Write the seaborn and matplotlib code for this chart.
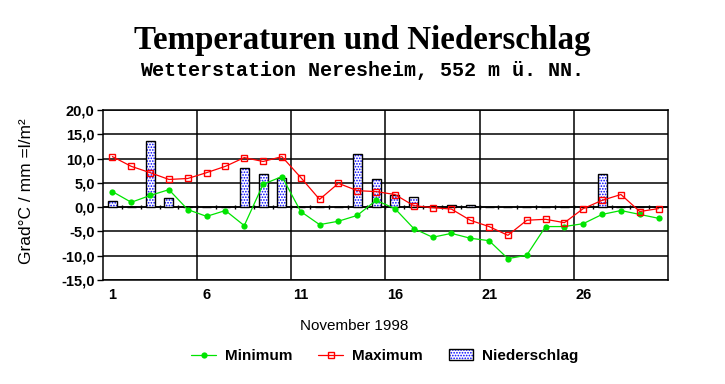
import matplotlib
matplotlib.use("Agg")
import matplotlib.pyplot as plt
import seaborn as sns
import numpy as np
import pandas as pd
from matplotlib.patches import Rectangle, Patch
from matplotlib.legend_handler import HandlerTuple

# ---------------- data ----------------
days = list(range(1, 31))
tmax = [10.4, 8.4, 7.1, 5.7, 5.9, 7.1, 8.4, 10.2, 9.4, 10.4,
        6.1, 1.6, 4.9, 3.4, 3.2, 2.6, 0.3, -0.1, -0.4, -2.7,
        -4.0, -5.8, -2.7, -2.5, -3.2, -0.3, 1.4, 2.6, -0.9, -0.3]
tmin = [3.2, 1.0, 2.4, 3.6, -0.5, -1.9, -0.7, -3.8, 4.7, 6.3,
        -0.9, -3.6, -2.9, -1.7, 1.4, -0.3, -4.4, -6.2, -5.4, -6.4,
        -6.9, -10.6, -9.9, -4.0, -4.0, -3.4, -1.5, -0.7, -1.5, -2.3]
rain = [1.2, 0, 13.7, 1.8, 0, 0.1, 0, 8.0, 6.9, 5.9,
        0, 0.1, 0.1, 11.0, 5.7, 2.6, 2.0, 0, 0.4, 0.4,
        0, 0, 0.1, 0, 0, 0, 6.9, 0, 0, 0]
x_tick_days = [1, 6, 11, 16, 21, 26]
y_ticks = [-15, -10, -5, 0, 5, 10, 15, 20]
y_tick_labels = [f"{v:.1f}".replace(".", ",") for v in y_ticks]

title = "Temperaturen und Niederschlag"
subtitle = "Wetterstation Neresheim, 552 m ü. NN."
xlabel = "November 1998"
ylabel = "Grad°C / mm =l/m²"
series_names = ["Minimum", "Maximum", "Niederschlag"]

df = pd.DataFrame({"day": days, "tmax": tmax, "tmin": tmin, "rain": rain})

# ---------------- style ----------------
sns.set_style("white")
plt.rcParams["font.family"] = ["Liberation Sans", "DejaVu Sans"]
plt.rcParams["hatch.linewidth"] = 0.8
for k in ["text.color", "axes.labelcolor", "xtick.color", "ytick.color", "axes.edgecolor"]:
    plt.rcParams[k] = "black"

GREEN = "#00e400"
RED = "#ff0000"
BLUE = "#0000ff"

fig = plt.figure(figsize=(7.25, 3.84), dpi=100)
ax = fig.add_axes([103 / 725, 1 - 280 / 384, (668 - 103) / 725, (280 - 110) / 384])

# bars (hatched fill, then black outline)
sns.barplot(data=df, x="day", y="rain", native_scale=True, width=0.48,
            color="white", edgecolor=BLUE, hatch="......", linewidth=0,
            errorbar=None, ax=ax, zorder=2)
for p in list(ax.patches):
    ax.add_patch(Rectangle(p.get_xy(), p.get_width(), p.get_height(),
                           fill=False, edgecolor="black", lw=1.0, zorder=2.5))

# lines
sns.lineplot(data=df, x="day", y="tmin", color=GREEN, marker="o", markersize=4.5,
             markeredgecolor=GREEN, markeredgewidth=0, linewidth=0.9,
             label=series_names[0], ax=ax, zorder=4)
sns.lineplot(data=df, x="day", y="tmax", color=RED, marker="s", markersize=4.5,
             markerfacecolor="none", markeredgecolor=RED, markeredgewidth=1.0,
             linewidth=0.9, label=series_names[1], ax=ax, zorder=4)

handles, labels = ax.get_legend_handles_labels()
if ax.get_legend() is not None:
    ax.get_legend().remove()

# axes styling
ax.set_xlim(0.5, 30.5)
ax.set_ylim(-15, 20)
ax.set_yticks(y_ticks, labels=y_tick_labels)
ax.set_xticks(x_tick_days, labels=[str(d) for d in x_tick_days])
ax.set_xticks([d - 0.5 for d in x_tick_days[1:]], minor=True)
ax.grid(False)
ax.grid(True, which="minor", axis="x", color="black", lw=1.1)
ax.grid(True, which="major", axis="y", color="black", lw=1.1)
ax.set_axisbelow(True)
ax.tick_params(axis="x", which="both", length=0, pad=6, labelsize=10.5, colors="black")
ax.tick_params(axis="y", which="major", direction="out", length=4, width=1,
               color="black", labelcolor="black", left=True, pad=2, labelsize=10.5)
for lab in ax.get_xticklabels() + ax.get_yticklabels():
    lab.set_fontweight("bold")
for s in ax.spines.values():
    s.set_color("black")
    s.set_linewidth(1.1)
    s.set_visible(True)

# zero line with small category ticks
ax.axhline(0, color="black", lw=1.1, zorder=1.5)
ax.vlines([d + 0.5 for d in days[:-1]], -0.45, 0.45, color="black", lw=1.0, zorder=1.5)

ax.set_xlabel(xlabel, fontsize=11, labelpad=0, color="black")
ax.xaxis.set_label_coords((354 - 103) / 565, -(319 - 280) / 170)
ax.xaxis.label.set_verticalalignment("top")
ax.set_ylabel(ylabel, fontsize=12.5, color="black")
ax.yaxis.label.set_verticalalignment("center")
ax.yaxis.set_label_coords((27 - 103) / 565, (280 - 191) / 170)

fig.text(0.5, 1 - 48.5 / 384, title, ha="center", va="baseline", color="black",
         fontsize=23.8, fontweight="bold", family=["Liberation Serif", "DejaVu Serif"])
fig.text(0.5, 1 - 76 / 384, subtitle, ha="center", va="baseline", color="black",
         fontsize=14.4, fontweight="bold", family=["Liberation Mono", "DejaVu Sans Mono"])

rain_handle = (Patch(facecolor="white", edgecolor=BLUE, hatch="......", lw=0),
               Patch(fill=False, edgecolor="black", lw=1.0))
fig.legend(handles + [rain_handle], labels + [series_names[2]],
           handler_map={tuple: HandlerTuple(ndivide=1)},
           loc="center", bbox_to_anchor=(385 / 725, 1 - 356 / 384), ncol=3,
           frameon=False, prop={"size": 11, "weight": "bold"},
           handlelength=1.6, handletextpad=0.6, columnspacing=1.7)

fig.savefig("out.png", dpi=100)
